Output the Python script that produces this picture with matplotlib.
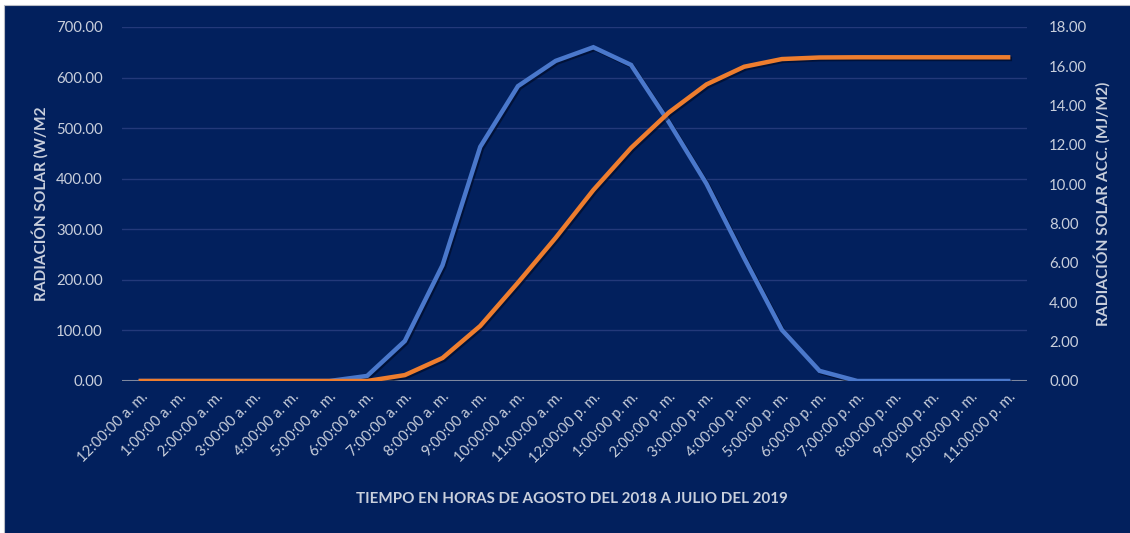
import matplotlib
matplotlib.use("Agg")
import matplotlib.pyplot as plt
import matplotlib.patheffects as pe
from matplotlib.patches import Rectangle

# Hourly data
hours = ["12:00:00 a. m.", "1:00:00 a. m.", "2:00:00 a. m.", "3:00:00 a. m.",
         "4:00:00 a. m.", "5:00:00 a. m.", "6:00:00 a. m.", "7:00:00 a. m.",
         "8:00:00 a. m.", "9:00:00 a. m.", "10:00:00 a. m.", "11:00:00 a. m.",
         "12:00:00 p. m.", "1:00:00 p. m.", "2:00:00 p. m.", "3:00:00 p. m.",
         "4:00:00 p. m.", "5:00:00 p. m.", "6:00:00 p. m.", "7:00:00 p. m.",
         "8:00:00 p. m.", "9:00:00 p. m.", "10:00:00 p. m.", "11:00:00 p. m."]
radiation_wm2 = [0, 0, 0, 0, 0, 0, 10, 79, 229, 463, 583, 633,
                 660, 625, 512, 390, 243, 101, 20, 0, 0, 0, 0, 0]
accumulated_mjm2 = [0, 0, 0, 0, 0, 0, 0, 0.3, 1.17, 2.8, 5.0, 7.28,
                    9.71, 11.85, 13.65, 15.08, 15.98, 16.37, 16.45, 16.46,
                    16.46, 16.46, 16.46, 16.46]
left_ticks = [0, 100, 200, 300, 400, 500, 600, 700]
right_ticks = [0, 2, 4, 6, 8, 10, 12, 14, 16, 18]

NAVY = "#02205d"
TEXT = "#c9cfdc"
GRID = "#23397a"
BLUE = "#4a78cc"
ORANGE = "#ee7d2e"
FONT = "Lato"

W, H = 1130, 533
fig = plt.figure(figsize=(W / 100, H / 100), dpi=100, facecolor="white")
fig.patches.append(Rectangle((4 / W, -2 / H), 1130 / W, 530 / H,
                             transform=fig.transFigure, facecolor=NAVY,
                             edgecolor="#b8bcc6", linewidth=0.8, zorder=-10))

ax = fig.add_axes([122 / W, 1 - 381 / H, (1027 - 122) / W, (381 - 27) / H])
ax.set_facecolor("none")
ax2 = ax.twinx()

x = list(range(len(hours)))
shadow = [pe.SimpleLineShadow(offset=(1.2, -1.2), shadow_color="#000820", alpha=0.6),
          pe.Normal()]

ax.plot(x, radiation_wm2, color=BLUE, lw=3.2, solid_joinstyle="miter",
        path_effects=shadow, zorder=3)
ax2.plot(x, accumulated_mjm2, color=ORANGE, lw=3.2, solid_joinstyle="miter",
         path_effects=shadow, zorder=3)

ax.set_xlim(-0.5, len(hours) - 0.5)
ax.set_ylim(0, 700)
ax2.set_ylim(0, 18)

ax.set_yticks(left_ticks)
ax.set_yticklabels([f"{v:.2f}" for v in left_ticks])
ax2.set_yticks(right_ticks)
ax2.set_yticklabels([f"{v:.2f}" for v in right_ticks])

ax.set_xticks(x)
ax.set_xticklabels(hours, rotation=45, ha="right", va="top",
                   rotation_mode="anchor")

ax.grid(axis="y", color=GRID, lw=1)
ax.set_axisbelow(True)
ax.axhline(0, color="#7d879f", lw=1.5, zorder=2)

for a in (ax, ax2):
    for s in a.spines.values():
        s.set_visible(False)
    a.tick_params(length=0, colors=TEXT, labelsize=10.7)
    for lbl in a.get_xticklabels() + a.get_yticklabels():
        lbl.set_fontfamily(FONT)
ax.tick_params(axis="y", pad=14)
ax2.tick_params(axis="y", pad=16)
ax.tick_params(axis="x", pad=6, labelsize=10.6)

fig.text(40 / W, 1 - 204 / H, "RADIACIÓN SOLAR (W/M2", rotation=90,
         ha="center", va="center", color=TEXT, fontsize=11.1,
         fontweight="bold", family=FONT)
fig.text(1102 / W, 1 - 204 / H, "RADIACIÓN SOLAR ACC. (MJ/M2)", rotation=90,
         ha="center", va="center", color=TEXT, fontsize=11.2,
         fontweight="bold", family=FONT)
fig.text(572 / W, 1 - 499 / H,
         "TIEMPO EN HORAS DE AGOSTO DEL 2018 A JULIO DEL 2019",
         ha="center", va="center", color=TEXT, fontsize=10.9,
         fontweight="bold", family=FONT)

fig.savefig("out.png", dpi=100, facecolor="white")
